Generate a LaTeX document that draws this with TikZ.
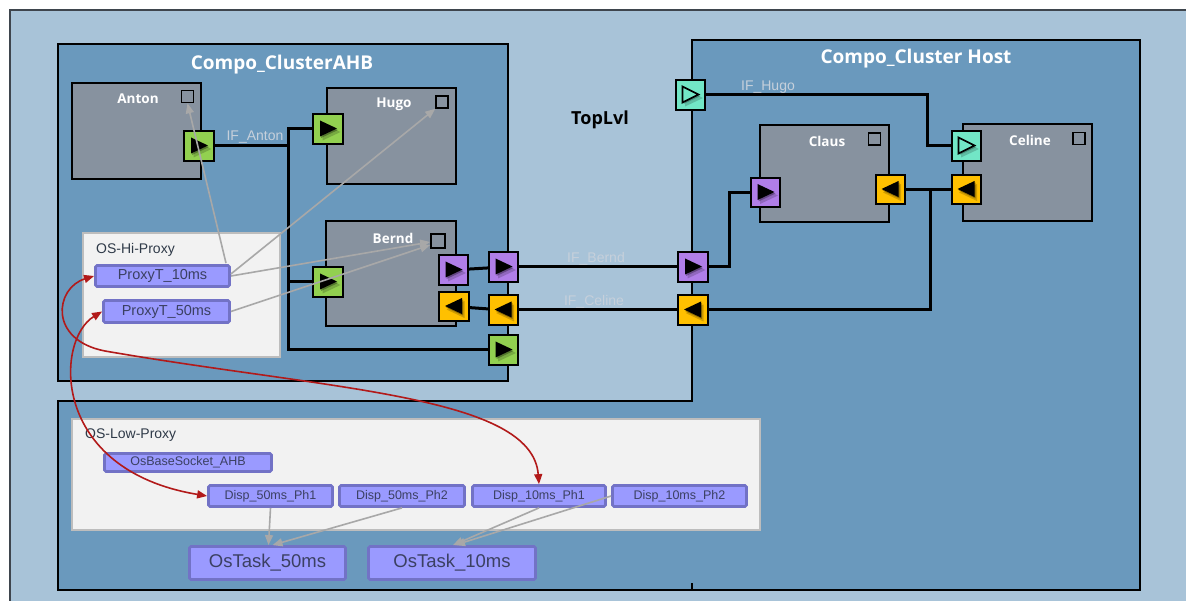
\documentclass[tikz,border=0pt]{standalone}
\usepackage{fontspec}
\setmainfont{Liberation Sans}
\newfontfamily\segoe{Open Sans}
\usetikzlibrary{arrows.meta,calc}
\definecolor{bgout}{HTML}{A8C3D8}
\definecolor{outerline}{HTML}{3E454D}
\definecolor{clus}{HTML}{6A99BD}
\definecolor{comp}{HTML}{87929F}
\definecolor{pgreen}{HTML}{92D050}
\definecolor{ppurple}{HTML}{B07EE8}
\definecolor{porange}{HTML}{FFC000}
\definecolor{pteal}{HTML}{72E6C6}
\definecolor{proxyfill}{HTML}{9A9AFF}
\definecolor{proxydraw}{HTML}{7272C6}
\definecolor{proxytext}{HTML}{3B4062}
\definecolor{lbl}{HTML}{C6D0DB}
\definecolor{depc}{HTML}{A8A8A8}
\definecolor{redc}{HTML}{B21A1A}
\definecolor{lightbox}{HTML}{F2F2F2}
\definecolor{lightboxline}{HTML}{BDBDBD}
\definecolor{grouptext}{HTML}{2F3A48}
\tikzset{
  clusterbox/.style={draw=black, line width=1.8pt, fill=clus, inner sep=0pt},
  compbox/.style={draw=black, line width=1.8pt, fill=comp, inner sep=0pt},
  sqbox/.style={draw=black, line width=1.6pt, fill=comp, minimum size=12pt, inner sep=0pt},
  ctitle/.style={font=\segoe\bfseries\fontsize{19}{22}\selectfont, text=white, inner sep=0pt},
  complbl/.style={font=\segoe\bfseries\fontsize{13.5}{16}\selectfont, text=white, inner sep=0pt},
  toplbl/.style={font=\segoe\bfseries\fontsize{18}{21}\selectfont, text=black, inner sep=0pt},
  iflbl/.style={font=\fontsize{14}{16}\selectfont, text=lbl, inner sep=0pt},
  grouplbl/.style={font=\fontsize{14}{16}\selectfont, text=grouptext, inner sep=0pt, anchor=west},
  groupbox/.style={draw=lightboxline, line width=1.2pt, fill=lightbox, inner sep=0pt},
  proxy/.style={draw=proxydraw, line width=2.8pt, fill=proxyfill, rounded corners=1.5pt, inner sep=0pt, text=proxytext},
  wire/.style={draw=black, line width=3pt},
  port/.style={draw=black, line width=1.9pt, minimum size=29.5pt, inner sep=0pt},
  triR/.style={path picture={
     \fill[black,opacity=0.18] ($(path picture bounding box.center)+(-5.5,-5.5)$) -- ++(0,17) -- ++(18,-8.5) -- cycle;
     \fill[black,opacity=0.3] ($(path picture bounding box.center)+(-7,-7)$) -- ++(0,16) -- ++(17,-8) -- cycle;
     \fill[black] ($(path picture bounding box.center)+(-8,-8.5)$) -- ++(0,16) -- ++(17,-8) -- cycle;}},
  triL/.style={path picture={
     \fill[black,opacity=0.18] ($(path picture bounding box.center)+(10.5,-5.5)$) -- ++(0,17) -- ++(-18,-8.5) -- cycle;
     \fill[black,opacity=0.3] ($(path picture bounding box.center)+(9,-7)$) -- ++(0,16) -- ++(-17,-8) -- cycle;
     \fill[black] ($(path picture bounding box.center)+(8,-8.5)$) -- ++(0,16) -- ++(-17,-8) -- cycle;}},
  triH/.style={path picture={
     \fill[black,opacity=0.18] ($(path picture bounding box.center)+(-5.5,-5.5)$) -- ++(0,17) -- ++(18,-8.5) -- cycle;
     \fill[black,opacity=0.25] ($(path picture bounding box.center)+(-7,-7)$) -- ++(0,16) -- ++(17,-8) -- cycle;
     \filldraw[fill=pteal, draw=black, line width=1.6pt, line join=miter] ($(path picture bounding box.center)+(-8,-8.5)$) -- ++(0,16) -- ++(16,-8) -- cycle;}},
  dep/.style={draw=depc, line width=1.6pt, -{Triangle[length=10pt,width=8pt]}},
  redarrow/.style={draw=redc, line width=1.6pt, {Triangle[length=10pt,width=8pt]}-{Triangle[length=10pt,width=8pt]}},
}
\begin{document}
\begin{tikzpicture}[x=1pt,y=-1pt]
\useasboundingbox (0,0) rectangle (1186,601);
\clip (0,0) rectangle (1186,601);
\fill[white] (0,0) rectangle (1186,601);
\draw[draw=outerline, line width=1.6pt, fill=bgout] (10,10) rectangle (1210,630);

% clusters
\node[clusterbox, minimum width=450pt, minimum height=337pt] (ahb) at (283,212.5) {};
\node[clusterbox, minimum width=448pt, minimum height=550pt] (host) at (916,315) {};
\fill[clus] (59,402) rectangle (691,589.5);
\fill[clus] (689,402) rectangle (695,582.5);
\draw[line width=1.8pt] (692,401) -- (58,401) -- (58,590) -- (692,590);
\node[ctitle] (tAHB) at (282,65) {Compo\_ClusterAHB};
\node[ctitle] (tHost) at (916,59) {Compo\_Cluster Host};
\node[toplbl] (tTop) at (600,120) {TopLvl};

% components
\node[compbox, minimum width=129pt, minimum height=96pt] (anton) at (136.5,131) {};
\node[complbl] (lAnton) at (138,99) {Anton};
\node[sqbox] (sqAnton) at (187.5,96.5) {};
\node[compbox, minimum width=129pt, minimum height=96pt] (hugo) at (391.5,136) {};
\node[complbl] (lHugo) at (394,104) {Hugo};
\node[sqbox] (sqHugo) at (442,102) {};
\node[compbox, minimum width=130pt, minimum height=105pt] (bernd) at (391,273.5) {};
\node[complbl] (lBernd) at (393,238) {Bernd};
\node[sqbox, minimum size=14pt] (sqBernd) at (438,241) {};
\node[compbox, minimum width=129pt, minimum height=97pt] (claus) at (824.5,173.5) {};
\node[complbl] (lClaus) at (827,141) {Claus};
\node[sqbox] (sqClaus) at (874.5,139) {};
\node[compbox, minimum width=129pt, minimum height=97pt] (celine) at (1027.5,172.5) {};
\node[complbl] (lCeline) at (1030,140) {Celine};
\node[sqbox] (sqCeline) at (1079,138.5) {};

% proxy groups
\node[groupbox, minimum width=197pt, minimum height=124pt] (hiproxy) at (181.5,295) {};
\node[grouplbl] (lHi) at (96,250) {OS-Hi-Proxy};
\node[groupbox, minimum width=688pt, minimum height=111pt] (lowproxy) at (416,474.5) {};
\node[grouplbl] (lLow) at (85,435.5) {OS-Low-Proxy};

\node[proxy, minimum width=134pt, minimum height=21pt, font=\fontsize{14.5}{16}\selectfont] (p10) at (162.5,276) {ProxyT\_10ms};
\node[proxy, minimum width=126pt, minimum height=22pt, font=\fontsize{14.5}{16}\selectfont] (p50) at (166.5,311.5) {ProxyT\_50ms};
\node[proxy, minimum width=167pt, minimum height=18pt, font=\fontsize{12.5}{14}\selectfont] (sock) at (188,462.5) {OsBaseSocket\_AHB};
\node[proxy, minimum width=124pt, minimum height=21pt, font=\fontsize{12.5}{14}\selectfont] (d50a) at (270.5,496) {Disp\_50ms\_Ph1};
\node[proxy, minimum width=125pt, minimum height=21pt, font=\fontsize{12.5}{14}\selectfont] (d50b) at (402,496) {Disp\_50ms\_Ph2};
\node[proxy, minimum width=133pt, minimum height=21pt, font=\fontsize{12.5}{14}\selectfont] (d10a) at (539,496) {Disp\_10ms\_Ph1};
\node[proxy, minimum width=134pt, minimum height=21pt, font=\fontsize{12.5}{14}\selectfont] (d10b) at (679.5,496) {Disp\_10ms\_Ph2};
\node[proxy, minimum width=156pt, minimum height=33pt, font=\fontsize{18.5}{20}\selectfont] (t50) at (267.5,563) {OsTask\_50ms};
\node[proxy, minimum width=167pt, minimum height=33pt, font=\fontsize{18.5}{20}\selectfont] (t10) at (452,563) {OsTask\_10ms};

% wire junction coordinates
\coordinate (busTop) at (288,129);
\coordinate (busBot) at (288,350);
\coordinate (cB) at (729,192.5);
\coordinate (cC) at (930,189.5);
\coordinate (cH) at (927,146);

% port positions
\coordinate (cAntonOut) at (199,146);
\coordinate (cHugoIn) at (328,129);
\coordinate (cBerndIn) at (328,282);
\coordinate (cBerndOut) at (453.5,270);
\coordinate (cBerndCel) at (454,306.5);
\coordinate (cAhbBernd) at (503.5,267);
\coordinate (cAhbCel) at (503.5,310);
\coordinate (cAhbOut) at (503.5,350);
\coordinate (cHostHugo) at (690.5,95);
\coordinate (cHostBernd) at (693,267);
\coordinate (cHostCel) at (693,310);
\coordinate (cClausIn) at (765.5,192.5);
\coordinate (cClausOut) at (890.5,189.5);
\coordinate (cCelHugo) at (966.5,146);
\coordinate (cCelOut) at (966.5,189.5);

% wires (drawn from port centres, ports cover the ends)
\draw[wire] (cHugoIn) -- (busTop) -- (busBot) -- (cAhbOut);
\draw[wire] (cAntonOut) -- (cAntonOut -| busTop);
\draw[wire] (cBerndIn) -- (cBerndIn -| busTop);
\draw[wire] (cBerndOut) -- (cAhbBernd);
\draw[wire] (cBerndCel) -- (cAhbCel);
\draw[wire] (cAhbBernd) -- (cHostBernd);
\draw[wire] (cAhbCel) -- (cHostCel);
\draw[wire] (cHostBernd) -| (cB) -- (cClausIn);
\draw[wire] (cHostCel) -| (cC);
\draw[wire] (cClausOut) -- (cCelOut);
\draw[wire] (cHostHugo) -| (cH) -- (cCelHugo);

% ports
\node[port, fill=pgreen, triR] (pAntonOut) at (cAntonOut) {};
\node[port, fill=pgreen, triR] (pHugoIn) at (cHugoIn) {};
\node[port, fill=pgreen, triR] (pBerndIn) at (cBerndIn) {};
\node[port, fill=ppurple, triR] (pBerndOut) at (cBerndOut) {};
\node[port, fill=porange, triL] (pBerndCel) at (cBerndCel) {};
\node[port, fill=ppurple, triR] (pAhbBernd) at (cAhbBernd) {};
\node[port, fill=porange, triL] (pAhbCel) at (cAhbCel) {};
\node[port, fill=pgreen, triR] (pAhbOut) at (cAhbOut) {};
\node[port, fill=pteal, triH] (pHostHugo) at (cHostHugo) {};
\node[port, fill=ppurple, triR] (pHostBernd) at (cHostBernd) {};
\node[port, fill=porange, triL] (pHostCel) at (cHostCel) {};
\node[port, fill=ppurple, triR] (pClausIn) at (cClausIn) {};
\node[port, fill=porange, triL] (pClausOut) at (cClausOut) {};
\node[port, fill=pteal, triH] (pCelHugo) at (cCelHugo) {};
\node[port, fill=porange, triL] (pCelOut) at (cCelOut) {};

% interface labels
\node[iflbl] (ifAnton) at (255,137) {IF\_Anton};
\node[iflbl] (ifHugo) at (768,87) {IF\_Hugo};
\node[iflbl] (ifBernd) at (596,259) {IF\_Bernd};
\node[iflbl] (ifCeline) at (594,302) {IF\_Celine};

% dependency arrows
\draw[dep] ($(p10.north)+(63.5,-1)$) -- (sqAnton.south);
\draw[dep] ($(p10.east)+(0,-2)$) -- (sqHugo.south west);
\draw[dep] (p10.east) -- ($(sqBernd.west)+(0,1)$);
\draw[dep] (p50.east) -- ($(sqBernd.west)+(0,4)$);
\draw[dep] (d50a.south) -- ($(t50.north)+(1,0)$);
\draw[dep] (d50b.south) -- ($(t50.north)+(5,0)$);
\draw[dep] (d10a.south) -- ($(t10.north)+(1,0)$);
\draw[dep] (d10b.west) -- ($(t10.north)+(3,0)$);

% red links
\draw[redarrow] (p10.west) .. controls (55,288) and (48,340) .. (105,351)
                 .. controls (330,390) and (532,395) .. (d10a.north);
\draw[redarrow] (p50.west) .. controls (55,340) and (50,470) .. (d50a.west);
\end{tikzpicture}
\end{document}
